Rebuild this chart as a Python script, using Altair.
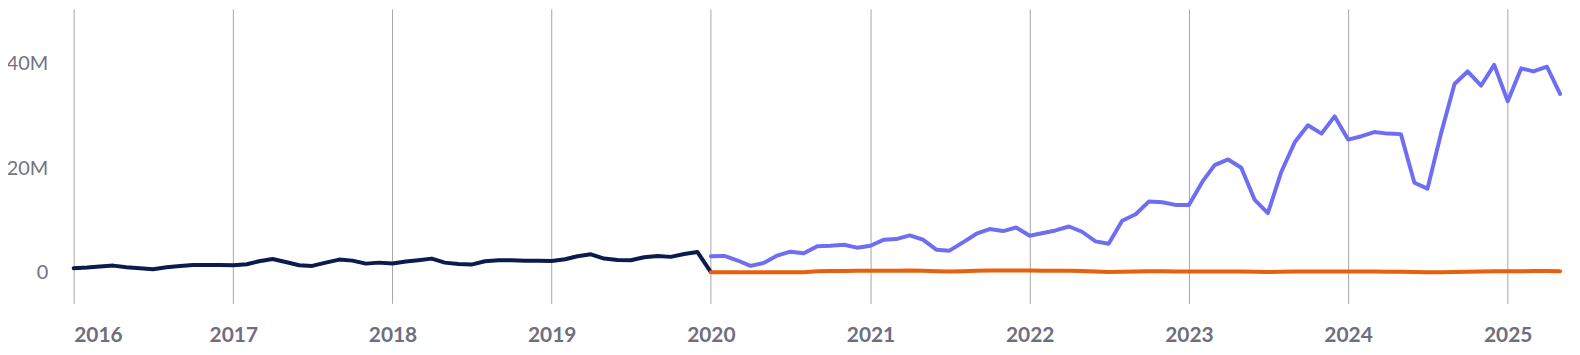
import altair as alt
import pandas as pd

# Monthly values (millions)
dark_start = "2016-01-01"
dark_values = [
    0.82, 0.95, 1.14, 1.33, 1.0, 0.82, 0.63, 1.0, 1.27, 1.46, 1.46, 1.46,
    1.4, 1.59, 2.16, 2.6, 2.03, 1.4, 1.27, 1.9, 2.48, 2.28, 1.71, 1.9,
    1.75, 2.1, 2.35, 2.67, 1.9, 1.65, 1.52, 2.16, 2.35, 2.35, 2.28, 2.28,
    2.22, 2.54, 3.11, 3.49, 2.67, 2.41, 2.35, 2.92, 3.17, 3.0, 3.55, 3.94,
    0.1,
]
purple_start = "2020-01-01"
purple_values = [
    3.11, 3.17, 2.35, 1.27, 1.84, 3.24, 4.0, 3.68, 5.02, 5.14, 5.33, 4.76,
    5.14, 6.29, 6.41, 7.11, 6.29, 4.38, 4.19, 5.78, 7.43, 8.32, 7.94, 8.63,
    7.05, 7.56, 8.06, 8.82, 7.81, 5.97, 5.52, 9.9, 11.17, 13.59, 13.46, 12.95,
    12.95, 17.4, 20.57, 21.65, 20.06, 13.9, 11.37, 19.3, 25.0, 28.19, 26.6, 29.9,
    25.46, 26.1, 26.9, 26.6, 26.5, 17.2, 16.06, 26.6, 36.1, 38.5, 35.8, 39.75,
    32.8, 39.1, 38.5, 39.4, 34.2,
]
orange_start = "2020-01-01"
orange_values = [
    0.05, 0.05, 0.05, 0.05, 0.05, 0.05, 0.05, 0.05, 0.25, 0.3, 0.3, 0.35,
    0.35, 0.35, 0.35, 0.4, 0.35, 0.25, 0.2, 0.25, 0.35, 0.4, 0.4, 0.4,
    0.4, 0.35, 0.35, 0.35, 0.3, 0.2, 0.1, 0.15, 0.2, 0.25, 0.25, 0.2,
    0.2, 0.2, 0.2, 0.2, 0.2, 0.15, 0.1, 0.15, 0.2, 0.2, 0.2, 0.2,
    0.2, 0.2, 0.2, 0.15, 0.15, 0.1, 0.05, 0.05, 0.1, 0.15, 0.2, 0.25,
    0.25, 0.25, 0.3, 0.3, 0.25,
]

series_names = ["dark", "purple", "orange"]
series_colors = ["#0b1b4d", "#6f6ef2", "#e8600c"]
year_ticks = list(range(2016, 2026))
y_ticks = [0, 20e6, 40e6]


def build(name, start, values):
    dates = pd.date_range(start, periods=len(values), freq="MS")
    return pd.DataFrame({
        "date": dates.strftime("%Y-%m-%d"),
        "value": [v * 1e6 for v in values],
        "series": name,
    })


df = pd.concat([
    build("dark", dark_start, dark_values),
    build("purple", purple_start, purple_values),
    build("orange", orange_start, orange_values),
], ignore_index=True)

chart = alt.Chart(df).mark_line(strokeWidth=4, strokeJoin="round", strokeCap="round").encode(
    x=alt.X(
        "date:T",
        scale=alt.Scale(
            type="utc",
            domain=[alt.DateTime(year=2016, month=1, date=1, utc=True),
                    alt.DateTime(year=2025, month=5, date=1, utc=True)],
        ),
        axis=alt.Axis(
            title=None,
            values=[alt.DateTime(year=y, month=1, date=1, utc=True) for y in year_ticks],
            format="%Y",
            formatType="utc",
            grid=True,
            gridColor="#a6a6a6",
            gridWidth=1,
            domain=False,
            ticks=False,
            labelFont="Lato",
            labelFontSize=21,
            labelFontWeight="bold",
            labelColor="#6e6e7e",
            labelPadding=21,
            labelFlush=True,
        ),
    ),
    y=alt.Y(
        "value:Q",
        scale=alt.Scale(domain=[-5.9e6, 50.48e6], nice=False, zero=False),
        axis=alt.Axis(
            title=None,
            values=y_ticks,
            labelExpr="datum.value == 0 ? '0' : format(datum.value / 1e6, 'd') + 'M'",
            grid=False,
            domain=False,
            ticks=False,
            labelFont="Lato",
            labelFontSize=20,
            labelColor="#73737f",
            labelPadding=26,
        ),
    ),
    color=alt.Color(
        "series:N",
        scale=alt.Scale(domain=series_names, range=series_colors),
        legend=None,
    ),
    detail="series:N",
).properties(
    width=1494,
    height=296,
    autosize=alt.AutoSizeParams(type="none"),
    padding={"left": 66, "top": 0, "right": 12, "bottom": 46},
).configure_view(stroke=None)

chart.save("out.html", embed_options={"renderer": "svg", "actions": False})
